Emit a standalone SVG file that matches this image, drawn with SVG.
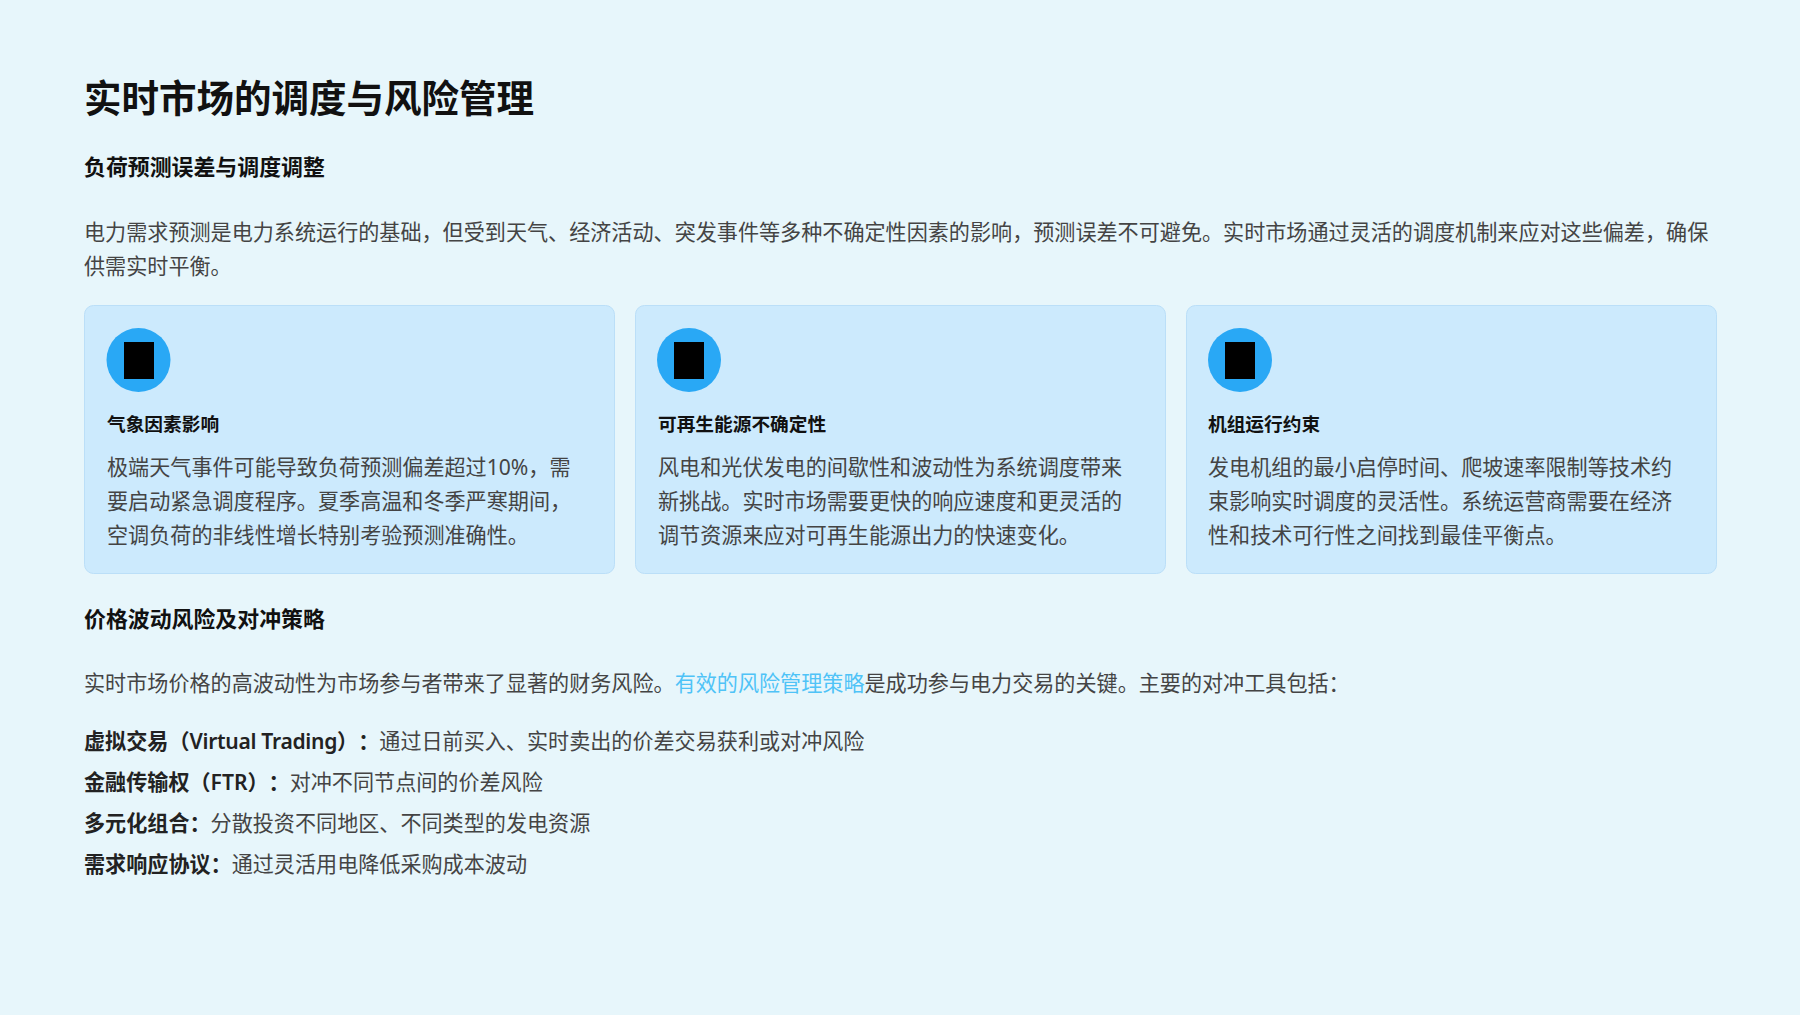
<svg xmlns="http://www.w3.org/2000/svg" width="1800" height="1015" viewBox="0 0 1800 1015">
<style>
text{font-family:"Noto Sans","Noto Sans CJK SC",sans-serif;white-space:pre;text-spacing-trim:space-all}
.t{font-size:37.5px;font-weight:700;fill:#111}
.h{font-size:21.900px;font-weight:700;fill:#111}
.b{font-size:21.100px;fill:#444}
.s{font-weight:600;fill:#222}
.c{font-size:18.700px;font-weight:700;fill:#111}
.card{fill:#cceafd;stroke:#bbdff8;stroke-width:1}
.ic{fill:#29a8f5}
.l{fill:#4fc3f7}
.n{letter-spacing:-.3px}
</style>
<rect width="1800" height="1015" fill="#e7f6fb"/>
<g id="header">
<text class="t" x="84" y="112">实时市场的调度与风险管理</text>
<text class="h" x="84" y="175">负荷预测误差与调度调整</text>
<text class="b" x="84" y="240">电力需求预测是电力系统运行的基础，但受到天气、经济活动、突发事件等多种不确定性因素的影响，预测误差不可避免。实时市场通过灵活的调度机制来应对这些偏差，确保</text>
<text class="b" x="84" y="274">供需实时平衡。</text>
</g>
<g id="card1">
<rect class="card" x="84.500" y="305.500" width="530" height="268" rx="9"/>
<circle class="ic" cx="138.500" cy="360" r="32"/>
<rect x="124" y="342" width="30" height="37" fill="#000"/>
<text class="c" x="107" y="431">气象因素影响</text>
<text class="b" x="107" y="475">极端天气事件可能导致负荷预测偏差超过10%，需</text>
<text class="b" x="107" y="509">要启动紧急调度程序。夏季高温和冬季严寒期间，</text>
<text class="b" x="107" y="543">空调负荷的非线性增长特别考验预测准确性。</text>
</g>
<g id="card2">
<rect class="card" x="635.500" y="305.500" width="530" height="268" rx="9"/>
<circle class="ic" cx="689" cy="360" r="32"/>
<rect x="674" y="342" width="30" height="37" fill="#000"/>
<text class="c" x="658" y="431">可再生能源不确定性</text>
<text class="b" x="658" y="475">风电和光伏发电的间歇性和波动性为系统调度带来</text>
<text class="b" x="658" y="509">新挑战。实时市场需要更快的响应速度和更灵活的</text>
<text class="b" x="658" y="543">调节资源来应对可再生能源出力的快速变化。</text>
</g>
<g id="card3">
<rect class="card" x="1186.500" y="305.500" width="530" height="268" rx="9"/>
<circle class="ic" cx="1240" cy="360" r="32"/>
<rect x="1225" y="342" width="30" height="37" fill="#000"/>
<text class="c" x="1208" y="431">机组运行约束</text>
<text class="b" x="1208" y="475">发电机组的最小启停时间、爬坡速率限制等技术约</text>
<text class="b" x="1208" y="509">束影响实时调度的灵活性。系统运营商需要在经济</text>
<text class="b" x="1208" y="543">性和技术可行性之间找到最佳平衡点。</text>
</g>
<g id="hedging">
<text class="h" x="84" y="627">价格波动风险及对冲策略</text>
<text class="b" x="84" y="691">实时市场价格的高波动性为市场参与者带来了显著的财务风险。<tspan class="l">有效的风险管理策略</tspan>是成功参与电力交易的关键。主要的对冲工具包括：</text>
<text class="b" x="84" y="749"><tspan class="s">虚拟交易（<tspan class="n">Virtual Trading</tspan>）：</tspan>通过日前买入、实时卖出的价差交易获利或对冲风险</text>
<text class="b" x="84" y="790"><tspan class="s">金融传输权（FTR）：</tspan>对冲不同节点间的价差风险</text>
<text class="b" x="84" y="831"><tspan class="s">多元化组合：</tspan>分散投资不同地区、不同类型的发电资源</text>
<text class="b" x="84" y="872"><tspan class="s">需求响应协议：</tspan>通过灵活用电降低采购成本波动</text>
</g>
</svg>
